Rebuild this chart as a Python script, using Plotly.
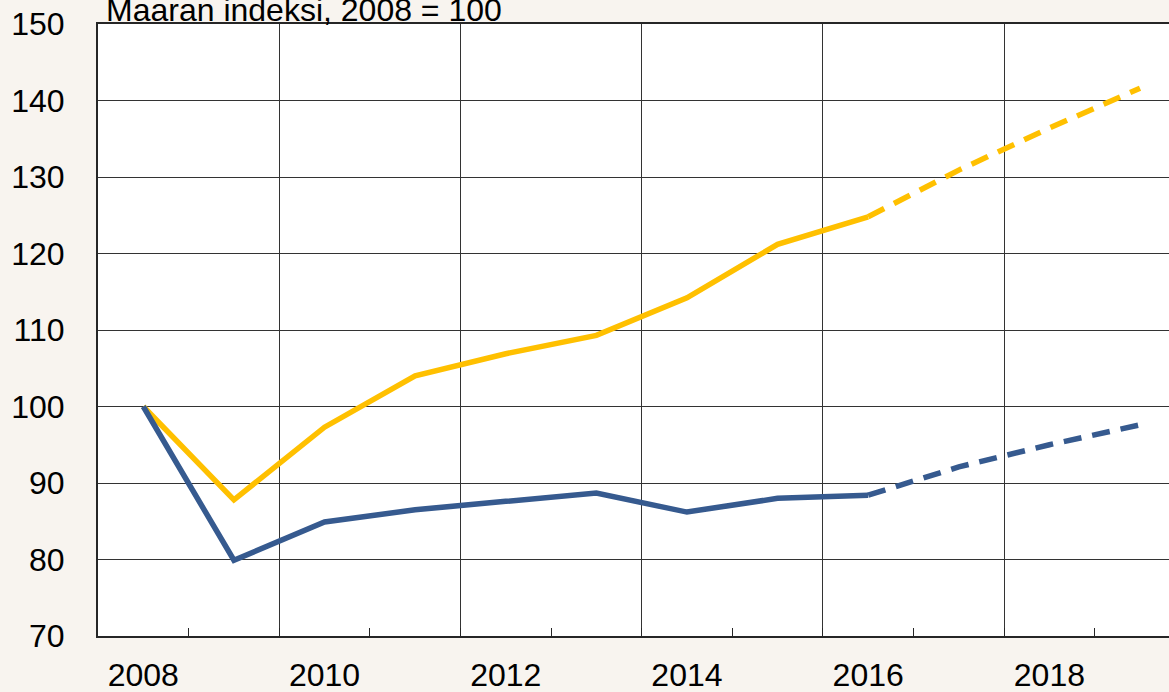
import plotly.graph_objects as go

years_actual = [2008, 2009, 2010, 2011, 2012, 2013, 2014, 2015, 2016]
years_forecast = [2016, 2017, 2018, 2019]
yellow_actual = [100, 87.8, 97.3, 104.0, 106.9, 109.3, 114.2, 121.2, 124.8]
yellow_forecast = [124.8, 130.9, 136.4, 141.6]
blue_actual = [100, 79.9, 84.9, 86.5, 87.6, 88.7, 86.2, 88.0, 88.4]
blue_forecast = [88.4, 92.1, 95.0, 97.6]
label_years = [2008, 2010, 2012, 2014, 2016, 2018]
grid_years = [2009.5, 2011.5, 2013.5, 2015.5, 2017.5]
minor_ticks = [2008.5, 2009.5, 2010.5, 2011.5, 2012.5, 2013.5, 2014.5, 2015.5, 2016.5, 2017.5, 2018.5]
title_text = "Maaran indeksi, 2008 = 100"

YELLOW = "#FFC000"
BLUE = "#365A8F"
BG = "#F8F4EF"
DARK = "#262626"
GRID = "#333333"
FONT = "Liberation Sans, Arial, sans-serif"
xr = [2007.5, 2019.32]

fig = go.Figure()
fig.add_trace(go.Scatter(x=[], y=[], xaxis="x2", yaxis="y", showlegend=False, hoverinfo="skip"))
fig.add_trace(go.Scatter(x=years_actual, y=yellow_actual, mode="lines",
                         line=dict(color=YELLOW, width=5.5), showlegend=False))
fig.add_trace(go.Scatter(x=years_forecast, y=yellow_forecast, mode="lines",
                         line=dict(color=YELLOW, width=5.5, dash="18px,11px"), showlegend=False))
fig.add_trace(go.Scatter(x=years_actual, y=blue_actual, mode="lines",
                         line=dict(color=BLUE, width=5.5), showlegend=False))
fig.add_trace(go.Scatter(x=years_forecast, y=blue_forecast, mode="lines",
                         line=dict(color=BLUE, width=5.5, dash="18px,11px"), showlegend=False))

fig.update_layout(
    width=1169, height=692,
    margin=dict(l=98, r=0, t=24, b=56, autoexpand=False),
    paper_bgcolor=BG, plot_bgcolor="white",
    font=dict(family=FONT, size=32, color="black"),
    xaxis=dict(range=xr, tickmode="array", tickvals=label_years,
               ticktext=[str(y) for y in label_years],
               ticks="", showgrid=False, zeroline=False, automargin=False,
               showline=True, linecolor=DARK, linewidth=2, mirror=True,
               ticklabelstandoff=10,
               minor=dict(tickmode="array", tickvals=minor_ticks, ticks="inside",
                          ticklen=8, tickcolor=DARK, tickwidth=1, showgrid=False)),
    xaxis2=dict(range=xr, overlaying="x", side="bottom", tickmode="array",
                tickvals=grid_years, showticklabels=False, ticks="",
                showgrid=True, gridcolor=GRID, gridwidth=1, zeroline=False,
                showline=False, automargin=False),
    yaxis=dict(range=[70, 150], tickmode="linear", tick0=70, dtick=10,
               showgrid=True, gridcolor=GRID, gridwidth=1, zeroline=False,
               showline=True, linecolor=DARK, linewidth=2, ticks="",
               ticklabelstandoff=25, automargin=False),
    annotations=[dict(text=title_text, xref="paper", yref="paper", x=0.0056, y=1,
                      xanchor="left", yanchor="bottom", showarrow=False,
                      font=dict(family=FONT, size=32, color="black"), yshift=-6)],
)

fig.write_html("out.html",
               config={"displayModeBar": False},
               post_script="document.body.style.margin='0px';document.body.style.background='%s';" % BG)
